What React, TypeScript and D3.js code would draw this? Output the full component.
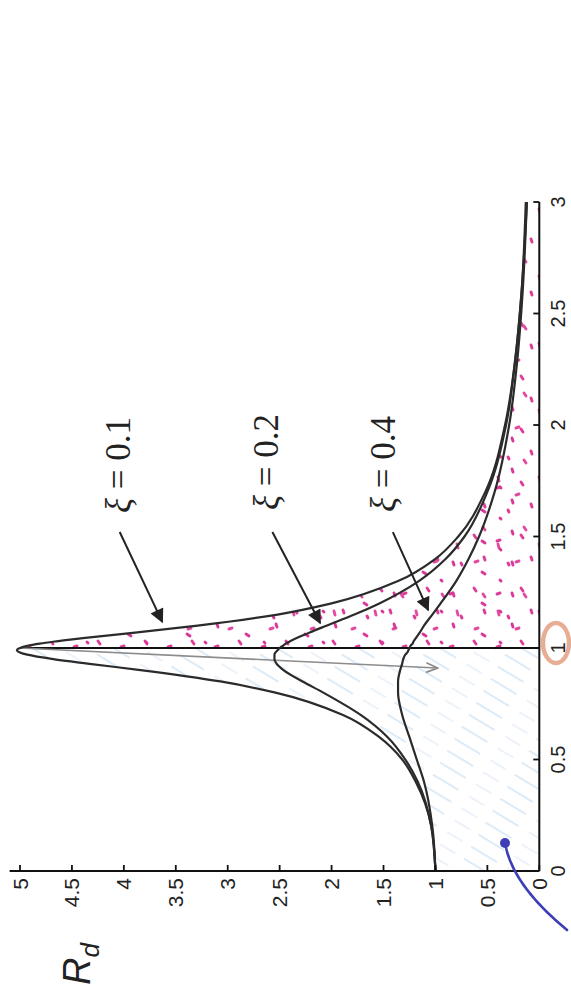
import React from "react";
import * as d3 from "d3";

// Frequency ratio r = ω/ωn at which each curve was sampled
const ratio = [0, 0.2, 0.4, 0.5, 0.6, 0.7, 0.8, 0.85, 0.9, 0.93, 0.95, 0.97, 0.98, 0.99, 1.0, 1.01, 1.02, 1.03, 1.05, 1.07, 1.1, 1.15, 1.2, 1.3, 1.4, 1.5, 1.7, 2.0, 2.3, 2.6, 3.0];

// Deformation response factor Rd for each damping ratio
const rdXi01 = [1.0, 1.04, 1.19, 1.32, 1.54, 1.89, 2.54, 3.07, 3.82, 4.35, 4.68, 4.93, 5.0, 5.03, 5.0, 4.93, 4.81, 4.65, 4.28, 3.87, 3.29, 2.52, 2.0, 1.36, 1.0, 0.78, 0.52, 0.33, 0.23, 0.17, 0.13];
const rdXi02 = [1.0, 1.04, 1.17, 1.29, 1.46, 1.72, 2.08, 2.28, 2.46, 2.53, 2.55, 2.55, 2.54, 2.52, 2.5, 2.47, 2.44, 2.4, 2.31, 2.21, 2.05, 1.78, 1.54, 1.16, 0.9, 0.72, 0.5, 0.32, 0.23, 0.17, 0.12];
const rdXi04 = [1.0, 1.03, 1.11, 1.18, 1.25, 1.32, 1.36, 1.36, 1.34, 1.32, 1.31, 1.29, 1.27, 1.26, 1.25, 1.24, 1.22, 1.21, 1.18, 1.15, 1.11, 1.03, 0.95, 0.8, 0.68, 0.58, 0.43, 0.29, 0.21, 0.16, 0.12];

const dampingLabels = ["0.1", "0.2", "0.4"];

// Tick values
const ratioTicks = [0, 0.5, 1, 1.5, 2, 2.5, 3];
const rdTicks = [0, 0.5, 1, 1.5, 2, 2.5, 3, 3.5, 4, 4.5, 5];

// Annotation anchors in data units (r, Rd)
const labelAnchors = [
  { r: 1.605, rd: 3.94 },
  { r: 1.619, rd: 2.52 },
  { r: 1.61, rd: 1.39 },
];
const arrowFrom = [
  { r: 1.52, rd: 4.04 },
  { r: 1.52, rd: 2.57 },
  { r: 1.52, rd: 1.41 },
];
const arrowTo = [
  { r: 1.117, rd: 3.63 },
  { r: 1.112, rd: 2.11 },
  { r: 1.17, rd: 1.07 },
];

const W = 571;
const H = 988;

// The chart is laid out turned a quarter turn: r runs upward, Rd runs leftward
const rScale = d3.scaleLinear().domain([0, 3]).range([871, 202]);
const dScale = d3.scaleLinear().domain([0, 5]).range([539.3, 20]);

type Pt = { r: number; rd: number };
const series: Pt[][] = [rdXi01, rdXi02, rdXi04].map((vals) =>
  ratio.map((r, i) => ({ r, rd: vals[i] })).reverse()
);

const line = d3
  .line<Pt>()
  .x((d) => dScale(d.rd))
  .y((d) => rScale(d.r))
  .curve(d3.curveMonotoneY);

const area = d3
  .area<Pt>()
  .y((d) => rScale(d.r))
  .x0(() => dScale(0))
  .x1((d) => dScale(d.rd))
  .curve(d3.curveMonotoneY);

const fmt = (v: number) => String(v);

const tickFont = "'Liberation Sans', Arial, Helvetica, sans-serif";
const mathFont = "'Liberation Serif', 'Times New Roman', serif";

// Short pencil marks that make up the stippled fill (three tiles of coprime size)
const stippleA = [
  [4, 5, 6, 8], [27, 11, 30, 10], [14, 27, 15, 30], [38, 33, 39, 35],
];
const stippleB = [
  [6, 8, 7, 12], [24, 26, 27, 25], [32, 58, 34, 61],
];
const stippleC = [
  [10, 14, 13, 16], [40, 4, 41, 7], [28, 22, 29, 23],
];

export default function App() {
  const upper = series[0].filter((d) => d.r >= 1);
  const lower = series[0].filter((d) => d.r <= 1);
  const axisY = rScale(0);
  const axisX = dScale(0);

  const tiles: [string, number, number, number[][], string][] = [
    ["pinkA", 47, 53, stippleA, "#de3c9b"],
    ["pinkB", 41, 67, stippleB, "#e24aa2"],
    ["pinkC", 59, 31, stippleC, "#d8389a"],
  ];

  return (
    <svg
      width={W}
      height={H}
      viewBox={`0 0 ${W} ${H}`}
      style={{ position: "absolute", left: 0, top: 0, background: "#fff" }}
    >
      <defs>
        {tiles.map(([id, w, h, marks, color]) => (
          <pattern key={id} id={id} width={w} height={h} patternUnits="userSpaceOnUse">
            {marks.map((d, i) => (
              <line key={i} x1={d[0]} y1={d[1]} x2={d[2]} y2={d[3]} stroke={color} strokeWidth={2.9} strokeLinecap="round" />
            ))}
          </pattern>
        ))}
        <pattern id="hatch" width={70} height={14} patternUnits="userSpaceOnUse" patternTransform="rotate(31)">
          <line x1={0} y1={7} x2={30} y2={7} stroke="#c3dcf1" strokeWidth={1.6} />
          <line x1={42} y1={7} x2={60} y2={7} stroke="#d2e4f4" strokeWidth={1.3} />
        </pattern>
        <marker id="blackHead" viewBox="0 0 10 10" refX={9} refY={5} markerUnits="userSpaceOnUse" markerWidth={16} markerHeight={14} orient="auto">
          <path d="M0,0 L10,5 L0,10 z" fill="#222" />
        </marker>
        <marker id="grayHead" viewBox="0 0 10 10" refX={9} refY={5} markerUnits="userSpaceOnUse" markerWidth={14} markerHeight={12} orient="auto">
          <path d="M0,1 L9.5,5 L0,9" fill="none" stroke="#8c8c8c" strokeWidth={1.4} />
        </marker>
      </defs>

      <rect x={0} y={0} width={W} height={H} fill="#fff" />

      {/* shaded regions under the lightest-damped curve */}
      <path d={area(lower) || ""} fill="url(#hatch)" opacity={0.7} />
      {tiles.map(([id]) => (
        <path key={id} d={area(upper) || ""} fill={`url(#${id})`} />
      ))}

      {/* resonance line at r = 1 */}
      <line x1={dScale(0)} x2={dScale(5)} y1={rScale(1)} y2={rScale(1)} stroke="#111" strokeWidth={2} />

      {/* arrow from resonance peak toward static response */}
      <line
        x1={dScale(5)}
        y1={rScale(1)}
        x2={dScale(0.985)}
        y2={rScale(0.91)}
        stroke="#8c8c8c"
        strokeWidth={1.6}
        markerEnd="url(#grayHead)"
      />

      {/* response curves */}
      {series.map((s, i) => (
        <path key={i} d={line(s) || ""} fill="none" stroke="#2b2b2b" strokeWidth={2.2} />
      ))}

      {/* Rd axis */}
      <line x1={dScale(5.1)} x2={axisX} y1={axisY} y2={axisY} stroke="#111" strokeWidth={2} />
      {rdTicks.map((v) => (
        <g key={v}>
          <line x1={dScale(v)} x2={dScale(v)} y1={axisY} y2={axisY - 6} stroke="#111" strokeWidth={1.8} />
          <text
            transform={`translate(${dScale(v)},${axisY + 7}) rotate(-90)`}
            textAnchor="end"
            dominantBaseline="central"
            fontFamily={tickFont}
            fontSize={21}
            fill="#222"
          >
            {fmt(v)}
          </text>
        </g>
      ))}

      {/* r axis */}
      <line x1={axisX} x2={axisX} y1={rScale(0)} y2={rScale(3)} stroke="#111" strokeWidth={2} />
      {ratioTicks.map((v) => (
        <g key={v}>
          <line x1={axisX} x2={axisX - 6} y1={rScale(v)} y2={rScale(v)} stroke="#111" strokeWidth={1.8} />
          <text
            transform={`translate(${axisX + 18.5},${rScale(v)}) rotate(-90)`}
            textAnchor="middle"
            dominantBaseline="central"
            fontFamily={tickFont}
            fontSize={20}
            fill="#222"
          >
            {fmt(v)}
          </text>
        </g>
      ))}

      {/* Rd title */}
      <text
        transform={`translate(90,985) rotate(-90)`}
        fontFamily={tickFont}
        fontSize={38}
        fontStyle="italic"
        fill="#222"
      >
        R
        <tspan fontSize={26} dy={9}>d</tspan>
      </text>

      {/* damping ratio annotations */}
      {dampingLabels.map((lab, i) => (
        <g key={lab}>
          <text
            transform={`translate(${dScale(labelAnchors[i].rd)},${rScale(labelAnchors[i].r)}) rotate(-90)`}
            fontFamily={mathFont}
            fontSize={35}
            fill="#222"
          >
            <tspan fontStyle="italic">ξ</tspan>
            {" = " + lab}
          </text>
          <line
            x1={dScale(arrowFrom[i].rd)}
            y1={rScale(arrowFrom[i].r)}
            x2={dScale(arrowTo[i].rd)}
            y2={rScale(arrowTo[i].r)}
            stroke="#222"
            strokeWidth={2}
            markerEnd="url(#blackHead)"
          />
        </g>
      ))}

      {/* circled tick at r = 1 */}
      <ellipse cx={556} cy={643} rx={13} ry={20} fill="none" stroke="#e4a082" strokeWidth={4.5} opacity={0.85} />

      {/* pen stroke with dot near the origin */}
      <path d="M505,843 Q512,885 567,930" fill="none" stroke="#3d3db5" strokeWidth={2.6} strokeLinecap="round" />
      <circle cx={505} cy={843} r={5} fill="#3d3db5" />
    </svg>
  );
}
